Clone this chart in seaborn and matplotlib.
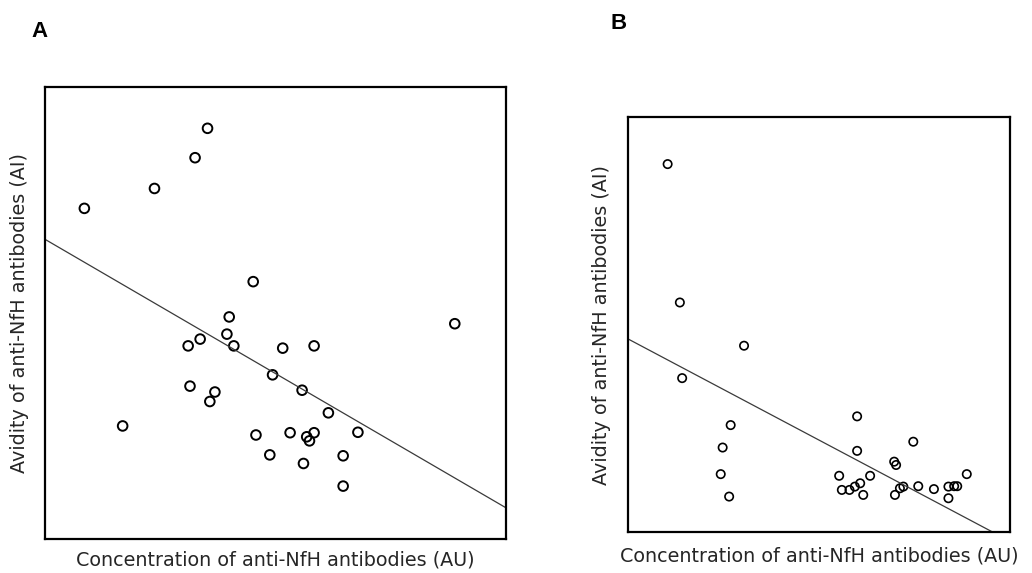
import matplotlib
matplotlib.use("Agg")
import matplotlib.pyplot as plt
import seaborn as sns

# ===== 数据（无刻度，坐标为相对单位 0-100）=====
# 图A：抗NfH抗体浓度 vs 亲和力
a_x = [35.3, 32.6, 23.8, 8.6, 45.2, 40.0, 33.7, 31.1, 39.5, 41.0,
       49.4, 31.5, 36.9, 35.8, 16.9, 45.8, 48.8, 88.9, 51.6, 58.4,
       55.8, 61.5, 53.2, 56.8, 58.4, 57.4, 67.9, 56.1, 64.7, 64.7]
a_y = [90.8, 84.3, 77.5, 73.1, 56.9, 49.1, 44.2, 42.7, 45.3, 42.7,
       36.3, 33.8, 32.5, 30.4, 25.0, 23.0, 18.6, 47.6, 42.2, 42.7,
       32.9, 27.9, 23.5, 22.6, 23.5, 21.7, 23.6, 16.7, 18.4, 11.7]
a_fit_x = [0, 100]
a_fit_y = [66.3, 6.9]

# 图B
b_x = [10.3, 13.5, 30.3, 14.1, 26.8, 24.7, 24.2, 26.4, 59.9, 74.6,
       59.9, 69.6, 70.1, 55.2, 63.3, 88.6, 55.9, 57.9, 59.3, 60.7,
       61.5, 69.8, 71.1, 72.0, 75.9, 80.0, 83.8, 85.3, 86.1, 83.8]
b_y = [88.6, 55.3, 44.9, 37.1, 25.8, 20.4, 14.0, 8.6, 27.9, 21.8,
       19.6, 17.0, 16.2, 13.6, 13.6, 14.0, 10.2, 10.2, 11.0, 11.8,
       9.0, 9.0, 10.6, 11.0, 11.1, 10.4, 11.0, 11.1, 11.1, 8.2]
b_fit_x = [0, 95.5]
b_fit_y = [46.5, 0.0]

x_label = "Concentration of anti-NfH antibodies (AU)"
y_label = "Avidity of anti-NfH antibodies (AI)"

sns.set_style("white")
plt.rcParams["font.family"] = ["DejaVu Sans"]

fig = plt.figure(figsize=(10.32, 5.73), dpi=100)
ax_a = fig.add_axes([0.0433, 0.0593, 0.447, 0.7894])
ax_b = fig.add_axes([0.6088, 0.0710, 0.3702, 0.7253])

panels = [
    (ax_a, a_x, a_y, a_fit_x, a_fit_y, 48, 1.4, 8.5, -0.035),
    (ax_b, b_x, b_y, b_fit_x, b_fit_y, 36, 1.2, 10, -0.044),
]
for ax, xs, ys, fx, fy, msize, mlw, xpad, ylx in panels:
    sns.scatterplot(x=xs, y=ys, ax=ax, marker="o", s=msize,
                    facecolor="none", edgecolor="black", linewidth=mlw)
    sns.lineplot(x=fx, y=fy, ax=ax, color="#3a3a3a", linewidth=0.9)
    ax.set_xlim(0, 100)
    ax.set_ylim(0, 100)
    ax.set_xticks([])
    ax.set_yticks([])
    for sp in ax.spines.values():
        sp.set_color("black")
        sp.set_linewidth(1.6)
    ax.set_xlabel(x_label, fontsize=13.8, color="#262626", labelpad=xpad)
    ax.set_ylabel(y_label, fontsize=13.8, color="#262626")
    ax.yaxis.set_label_coords(ylx, 0.5)

fig.text(0.030, 0.935, "A", fontsize=16, fontweight="bold", color="black",
         family="Liberation Sans")
fig.text(0.592, 0.950, "B", fontsize=16, fontweight="bold", color="black",
         family="Liberation Sans")

fig.savefig("out.png", dpi=100)
